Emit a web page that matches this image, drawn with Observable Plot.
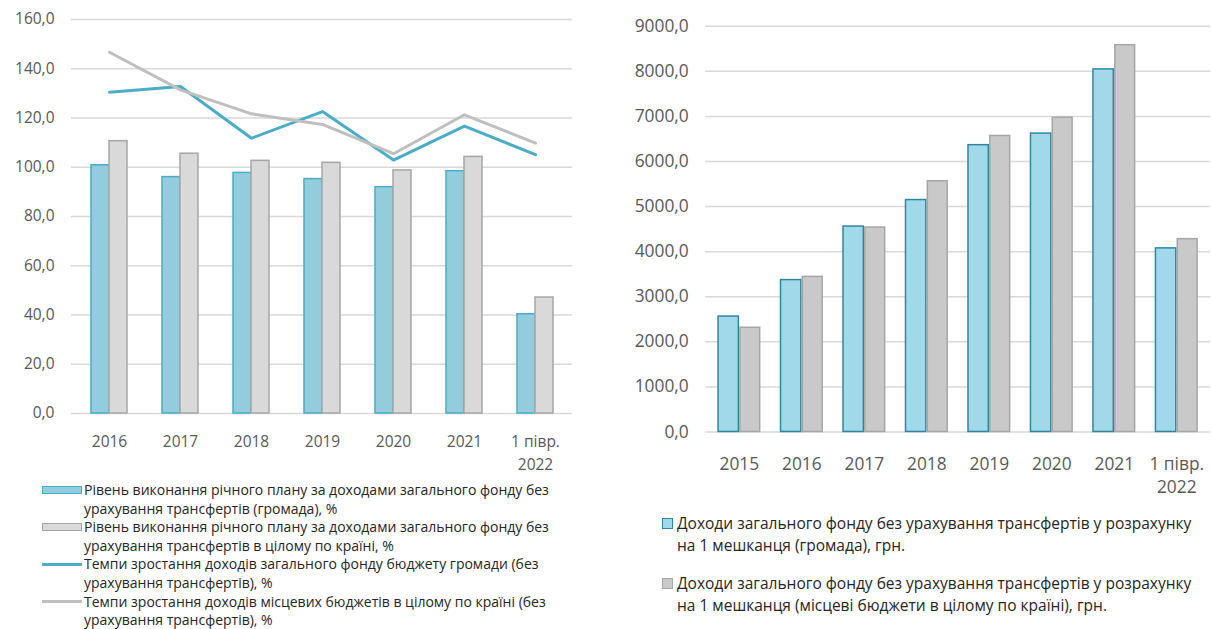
<!DOCTYPE html>
<html><head><meta charset="utf-8">
<script src="https://cdn.jsdelivr.net/npm/d3@7"></script>
<script src="https://cdn.jsdelivr.net/npm/@observablehq/plot@0.6"></script>
<style>
body{margin:0;background:#fff;width:1211px;height:629px;overflow:hidden;position:relative;font-family:"Open Sans",sans-serif;}
#left{position:absolute;left:0;top:0;}
#right{position:absolute;left:600px;top:0;}
#legL{position:absolute;left:42px;top:481px;color:#262626;font-size:14px;}
#legR{position:absolute;left:662px;top:512px;color:#262626;font-size:15.5px;}
.item{display:flex;align-items:flex-start;}
#legL .txt{white-space:pre-line;line-height:18.6px;}
#legR .txt{white-space:pre-line;line-height:22px;}
#legR .item{margin-bottom:16px;}
.sw{flex:none;box-sizing:border-box;}
</style></head><body>
<div id="left"></div><div id="right"></div>
<div id="legL"></div><div id="legR"></div>
<script>
// ---- Left chart data
const periodsL = ["2016","2017","2018","2019","2020","2021","1 півр.\n2022"];
const planHromada = [100.8, 96.0, 97.7, 95.2, 91.9, 98.4, 40.3];
const planCountry = [110.6, 105.5, 102.6, 101.8, 98.7, 104.2, 47.1];
const growthHromada = [130.5, 132.8, 111.8, 122.6, 102.9, 116.7, 105.1];
const growthCountry = [146.7, 131.4, 121.7, 117.4, 105.5, 121.3, 109.8];
const yTicksL = [0, 20, 40, 60, 80, 100, 120, 140, 160];
const legendL = [
  "Рівень виконання річного плану за доходами загального фонду без\nурахування трансфертів (громада), %",
  "Рівень виконання річного плану за доходами загального фонду без\nурахування трансфертів в цілому по країні, %",
  "Темпи зростання доходів загального фонду бюджету громади (без\nурахування трансфертів), %",
  "Темпи зростання доходів місцевих бюджетів в цілому по країні (без\nурахування трансфертів), %"
];
// ---- Right chart data
const periodsR = ["2015","2016","2017","2018","2019","2020","2021","1 півр.\n2022"];
const perCapitaHromada = [2560, 3370, 4557, 5145, 6363, 6620, 8043, 4073];
const perCapitaCountry = [2312, 3441, 4535, 5563, 6567, 6972, 8580, 4278];
const yTicksR = [0, 1000, 2000, 3000, 4000, 5000, 6000, 7000, 8000, 9000];
const legendR = [
  "Доходи загального фонду без урахування трансфертів у розрахунку\nна 1 мешканця (громада), грн.",
  "Доходи загального фонду без урахування трансфертів у розрахунку\nна 1 мешканця (місцеві бюджети в цілому по країні), грн."
];

const fmt = d => d.toFixed(1).replace(".", ",");
const C = {
  blueFillL: "#93cddd", blueStrokeL: "#4bacc6",
  grayFillL: "#d9d9d9", grayStrokeL: "#a6a6a6",
  lineBlue: "#4bacc6", lineGray: "#bfbfbf",
  blueFillR: "#a2d9ea", blueStrokeR: "#31859c",
  grayFillR: "#c9c9c9", grayStrokeR: "#a6a6a6",
  grid: "#d9d9d9", tick: "#595959"
};

const rowsL = periodsL.map((p, i) => ({p, a: planHromada[i], b: planCountry[i], g1: growthHromada[i], g2: growthCountry[i]}));
const left = Plot.plot({
  width: 600, height: 482,
  marginTop: 19, marginBottom: 69, marginLeft: 71, marginRight: 28,
  style: {fontFamily: "Open Sans", fontSize: "15.5px", color: C.tick, background: "transparent"},
  x: {domain: periodsL, paddingInner: 0.5, paddingOuter: 0.25, label: null},
  y: {domain: [0, 160], label: null},
  marks: [
    Plot.gridY(yTicksL, {stroke: C.grid, strokeOpacity: 1, strokeWidth: 1.5}),
    Plot.axisY({ticks: yTicksL, tickFormat: fmt, tickSize: 0, tickPadding: 17, label: null, fill: C.tick}),
    Plot.axisX({tickSize: 0, tickPadding: 18, lineHeight: 1.45, label: null, fill: C.tick}),
    Plot.barY(rowsL, {x: "p", y: "a", fill: C.blueFillL, stroke: C.blueStrokeL, strokeWidth: 1.5, insetRight: 18}),
    Plot.barY(rowsL, {x: "p", y: "b", fill: C.grayFillL, stroke: C.grayStrokeL, strokeWidth: 1.5, insetLeft: 18}),
    Plot.lineY(rowsL, {x: "p", y: "g1", stroke: C.lineBlue, strokeWidth: 3}),
    Plot.lineY(rowsL, {x: "p", y: "g2", stroke: C.lineGray, strokeWidth: 3})
  ]
});
document.getElementById("left").append(left);

const rowsR = periodsR.map((p, i) => ({p, a: perCapitaHromada[i], b: perCapitaCountry[i]}));
const right = Plot.plot({
  width: 616, height: 505,
  marginTop: 26, marginBottom: 70, marginLeft: 106, marginRight: 1,
  style: {fontFamily: "Open Sans", fontSize: "17.5px", color: C.tick, background: "transparent"},
  x: {domain: periodsR, paddingInner: 0.34, paddingOuter: 0.17, label: null},
  y: {domain: [0, 9000], label: null},
  marks: [
    Plot.gridY(yTicksR, {stroke: C.grid, strokeOpacity: 1, strokeWidth: 1.5}),
    Plot.axisY({ticks: yTicksR, tickFormat: fmt, tickSize: 0, tickPadding: 17, label: null, fill: C.tick}),
    Plot.axisX({tickSize: 0, tickPadding: 21, lineHeight: 1.37, label: null, fill: C.tick}),
    Plot.barY(rowsR, {x: "p", y: "a", fill: C.blueFillR, stroke: C.blueStrokeR, strokeWidth: 1.5, insetRight: 21.5}),
    Plot.barY(rowsR, {x: "p", y: "b", fill: C.grayFillR, stroke: C.grayStrokeR, strokeWidth: 1.5, insetLeft: 22})
  ]
});
document.getElementById("right").append(right);

// ---- Legends
const swL = [
  {w: 40, h: 8, mt: 5.3, fill: C.blueFillL, stroke: C.blueStrokeL, bw: 1.5},
  {w: 40, h: 8, mt: 5.3, fill: C.grayFillL, stroke: C.grayStrokeL, bw: 1.5},
  {w: 40, h: 3, mt: 7.8, fill: C.lineBlue, stroke: C.lineBlue, bw: 0},
  {w: 40, h: 3, mt: 7.8, fill: C.lineGray, stroke: C.lineGray, bw: 0}
];
const legL = document.getElementById("legL");
legendL.forEach((t, i) => {
  const s = swL[i];
  const it = document.createElement("div"); it.className = "item";
  const sw = document.createElement("div"); sw.className = "sw";
  Object.assign(sw.style, {width: s.w + "px", height: s.h + "px", marginTop: s.mt + "px", marginRight: "2px", background: s.fill, border: s.bw ? `${s.bw}px solid ${s.stroke}` : "none"});
  const tx = document.createElement("div"); tx.className = "txt"; tx.textContent = t;
  it.append(sw, tx); legL.append(it);
});
const swR = [
  {fill: C.blueFillR, stroke: C.blueStrokeR},
  {fill: C.grayFillR, stroke: C.grayStrokeR}
];
const legR = document.getElementById("legR");
legendR.forEach((t, i) => {
  const s = swR[i];
  const it = document.createElement("div"); it.className = "item";
  const sw = document.createElement("div"); sw.className = "sw";
  Object.assign(sw.style, {width: "11px", height: "11px", marginTop: "5.5px", marginRight: "4px", background: s.fill, border: `1.5px solid ${s.stroke}`});
  const tx = document.createElement("div"); tx.className = "txt"; tx.textContent = t;
  it.append(sw, tx); legR.append(it);
});
</script>
</body></html>
